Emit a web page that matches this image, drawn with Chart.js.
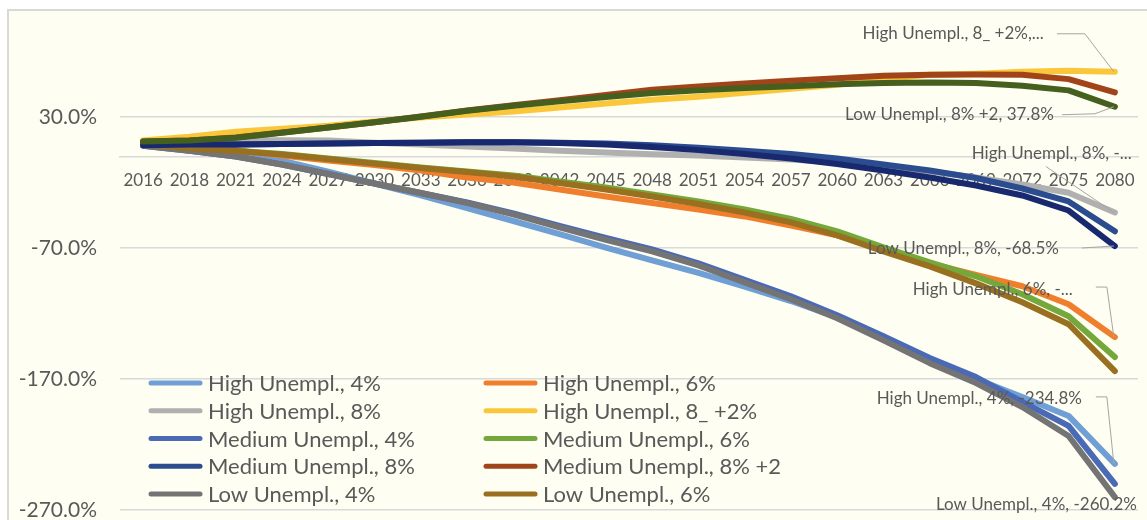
<!DOCTYPE html>
<html>
<head>
<meta charset="utf-8">
<title>Unemployment scenarios 2016-2080</title>
<script src="https://cdn.jsdelivr.net/npm/chart.js@4.4.1/dist/chart.umd.min.js"></script>
<style>
  html, body { margin: 0; padding: 0; background: #fff; }
  #wrap { width: 1147px; height: 520px; }
</style>
</head>
<body>
<div id="wrap"><canvas id="scenarioChart" width="1147" height="520"></canvas></div>
<script>
const years = ['2016', '2018', '2021', '2024', '2027', '2030', '2033', '2036', '2039', '2042', '2045',
  '2048', '2051', '2054', '2057', '2060', '2063', '2066', '2069', '2072', '2075', '2080'];

const yTicks = [30, -70, -170, -270];

const high4   = [8.9, 5.9, 2.1, -3.3, -11.7, -20.8, -29.9, -39.5, -49.4, -59.5, -69.8, -79.4, -89.0, -99.5, -110.5, -123.0, -138.8, -155.6, -170.1, -183.8, -198.2, -234.8];
const high6   = [8.9, 7.0, 4.7, 0.5, -3.3, -6.7, -10.9, -16.2, -20.0, -25.4, -30.7, -35.6, -40.6, -45.9, -52.8, -60.4, -71.1, -81.7, -90.5, -99.2, -112.9, -138.0];
const high8   = [9.7, 11.2, 12.3, 12.3, 12.0, 10.4, 8.9, 7.4, 5.9, 4.3, 2.8, 1.6, 0.5, -1.0, -2.5, -4.8, -7.8, -11.6, -16.2, -21.5, -27.8, -42.9];
const high8p2 = [12.0, 15.0, 18.8, 21.1, 23.4, 26.5, 29.5, 31.8, 34.1, 37.2, 40.2, 43.2, 45.5, 48.5, 51.6, 54.6, 59.0, 62.2, 63.0, 64.5, 65.3, 64.5];
const med4    = [8.1, 4.3, -0.2, -6.3, -13.5, -20.8, -28.0, -35.3, -43.6, -53.2, -62.3, -71.1, -81.7, -94.3, -106.9, -121.3, -137.3, -154.0, -168.5, -187.5, -205.8, -250.0];
const med6    = [8.9, 6.6, 4.3, 1.7, -1.7, -5.2, -8.6, -11.7, -14.7, -19.3, -23.8, -29.2, -34.5, -40.6, -47.8, -57.3, -69.5, -80.9, -91.6, -105.3, -122.1, -153.3];
const med8    = [8.5, 8.9, 8.9, 9.3, 9.7, 10.1, 10.4, 10.8, 10.8, 10.4, 9.7, 8.5, 6.6, 4.3, 1.7, -1.7, -6.3, -10.9, -16.6, -24.6, -34.5, -57.3];
const med8p2  = [11.2, 12.0, 14.4, 18.2, 22.0, 26.0, 30.4, 35.0, 39.0, 42.8, 46.8, 50.8, 53.3, 55.5, 57.7, 59.6, 61.5, 62.2, 62.5, 62.2, 58.9, 48.7];
const low4    = [8.1, 4.3, -0.2, -6.3, -13.5, -20.8, -28.0, -35.6, -44.4, -54.3, -63.8, -72.6, -83.3, -96.2, -109.1, -123.6, -140.4, -157.9, -173.1, -191.4, -213.5, -260.2];
const low6    = [8.9, 6.2, 4.0, 1.3, -2.1, -5.6, -9.0, -12.0, -15.5, -20.4, -25.4, -30.7, -36.4, -42.9, -50.5, -60.4, -72.6, -84.0, -97.0, -111.4, -128.2, -164.0];
const low8    = [8.5, 8.9, 8.9, 9.3, 9.7, 10.1, 10.4, 10.8, 10.7, 10.1, 8.9, 7.0, 4.7, 1.7, -1.7, -5.9, -10.9, -16.2, -22.3, -29.9, -41.4, -68.5];
const low8p2  = [11.2, 12.0, 14.2, 18.0, 21.9, 25.9, 30.2, 34.8, 38.6, 41.9, 45.2, 48.3, 50.3, 52.1, 53.5, 55.0, 55.9, 56.4, 55.9, 53.8, 50.3, 37.8];

const series = [
  ['High Unempl., 4%', high4, '#6F9FD4'],
  ['High Unempl., 6%', high6, '#F07F2D'],
  ['High Unempl., 8%', high8, '#B0B0B0'],
  ['High Unempl., 8_ +2%', high8p2, '#FAC73A'],
  ['Medium Unempl., 4%', med4, '#4A6AB6'],
  ['Medium Unempl., 6%', med6, '#74A83A'],
  ['Medium Unempl., 8%', med8, '#2B4D90'],
  ['Medium Unempl., 8% +2', med8p2, '#A2441A'],
  ['Low Unempl., 4%', low4, '#747474'],
  ['Low Unempl., 6%', low6, '#98701F'],
  ['Low Unempl., 8%', low8, '#18296F'],
  ['Low Unempl., 8% +2', low8p2, '#445F1E']
];

const TEXT = '#595959';
const FONT = 'Lato, "Open Sans", sans-serif';

// labels at the 2080 end of some lines: offsets of the text's right edge and leader bends from the point
const labelSpots = [
  { ds: 3,  keep: 21, dx: -71, dy: -38, lead: [[-58, -38], [-30, -38]] },
  { ds: 11, dx: -61, dy: 8,   lead: [[-53, 8], [-20, 7]] },
  { ds: 2,  keep: 19, dx: 17, dy: -59, lead: [[-69, -46]] },
  { ds: 10, dx: -56, dy: 2,   lead: [[-33, 2]] },
  { ds: 1,  keep: 19, dx: -42, dy: -48, lead: [[-19, -50], [-8, -50]] },
  { ds: 0,  dx: -33, dy: -65, lead: [[-19, -67], [-8, -67]] },
  { ds: 8,  dx: 22,  dy: 7 }
];

const frame = {
  id: 'frame',
  beforeDraw(chart) {
    const c = chart.ctx;
    c.save();
    c.fillStyle = '#ffffff';
    c.fillRect(0, 0, chart.width, chart.height);
    c.fillStyle = '#FEFEF2';
    c.fillRect(8, 10, chart.width, chart.height);
    c.strokeStyle = '#D9D9D9';
    c.lineWidth = 2;
    c.strokeRect(8, 10, chart.width + 20, chart.height + 20);
    c.restore();
  }
};

const endLabels = {
  id: 'endLabels',
  afterDatasetsDraw(chart) {
    const c = chart.ctx;
    const last = years.length - 1;
    c.save();
    c.font = '17px ' + FONT;
    c.textAlign = 'right';
    c.textBaseline = 'middle';
    labelSpots.forEach(s => {
      const ds = chart.data.datasets[s.ds];
      const pt = chart.getDatasetMeta(s.ds).data[last];
      let text = ds.label + ', ' + ds.data[last].toFixed(1) + '%';
      if (s.keep) text = text.slice(0, s.keep) + '...';
      if (s.lead) {
        c.strokeStyle = '#A6A6A6';
        c.lineWidth = 1;
        c.beginPath();
        s.lead.forEach(([dx, dy], k) => {
          if (k === 0) c.moveTo(pt.x + dx, pt.y + dy);
          else c.lineTo(pt.x + dx, pt.y + dy);
        });
        c.lineTo(pt.x - 1, pt.y);
        c.stroke();
      }
      c.fillStyle = TEXT;
      c.fillText(text, pt.x + s.dx, pt.y + s.dy);
    });
    c.restore();
  }
};

// two-column legend sitting inside the plot, only the first ten series fit
const legendBox = {
  id: 'legendBox',
  afterDraw(chart) {
    const c = chart.ctx;
    const left = chart.chartArea.left + 28;
    c.save();
    c.font = '22px ' + FONT;
    c.textBaseline = 'middle';
    c.lineCap = 'round';
    c.lineWidth = 5;
    chart.data.datasets.slice(0, 10).forEach((ds, i) => {
      const x = left + (i % 2) * 335;
      const y = 383 + Math.floor(i / 2) * 27.75;
      c.strokeStyle = ds.borderColor;
      c.beginPath();
      c.moveTo(x + 3, y);
      c.lineTo(x + 52, y);
      c.stroke();
      c.fillStyle = TEXT;
      c.fillText(ds.label, x + 60, y + 1);
    });
    c.restore();
  }
};

new Chart(document.getElementById('scenarioChart'), {
  type: 'line',
  data: {
    labels: years,
    datasets: series.map(([label, data, color], i) => ({
      label,
      data,
      borderColor: color,
      backgroundColor: color,
      borderWidth: 6,
      borderCapStyle: 'round',
      borderJoinStyle: 'round',
      pointRadius: 0,
      tension: 0,
      fill: false,
      order: -i
    }))
  },
  options: {
    responsive: false,
    animation: false,
    devicePixelRatio: 1,
    layout: { padding: { top: 14, right: 9, bottom: 2, left: 0 } },
    plugins: {
      legend: { display: false },
      tooltip: { enabled: false }
    },
    scales: {
      x: {
        position: { y: 0 },
        offset: true,
        // invisible tick marks give the gap between the zero line and the year labels
        grid: { display: false, drawTicks: true, tickLength: 14 },
        border: { display: true, color: '#D9D9D9', width: 1.5 },
        ticks: {
          autoSkip: false,
          maxRotation: 0,
          padding: 0,
          color: TEXT,
          font: { family: FONT, size: 17 }
        }
      },
      y: {
        min: -276.1,
        max: 108.6,
        afterBuildTicks(scale) {
          scale.ticks = yTicks.map(v => ({ value: v }));
        },
        afterFit(scale) {
          scale.width = 120;
          // the top and bottom labels sit well inside the plot, no extra room needed
          scale.paddingTop = 0;
          scale.paddingBottom = 0;
        },
        grid: { color: '#D9D9D9', lineWidth: 1.5, drawTicks: true, tickLength: 23, tickColor: 'transparent' },
        border: { display: false },
        ticks: {
          padding: 0,
          color: TEXT,
          font: { family: FONT, size: 21 },
          callback: v => v.toFixed(1) + '%'
        }
      }
    }
  },
  plugins: [frame, endLabels, legendBox]
});
</script>
</body>
</html>
